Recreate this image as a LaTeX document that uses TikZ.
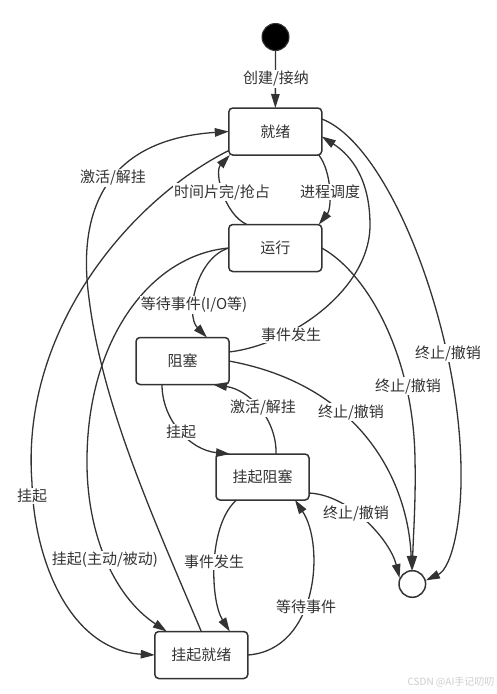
\documentclass[tikz,border=0pt]{standalone}
\usepackage{fontspec}
\setmainfont{Noto Sans CJK SC}
\usetikzlibrary{arrows.meta,calc}
\definecolor{ink}{HTML}{333333}
\begin{document}
\begin{tikzpicture}[x=1pt, y=-1pt,
    every node/.style={text=ink, font=\fontsize{15}{18}\selectfont},
    proc/.style={rectangle, draw=ink, line width=1.5pt, rounded corners=4pt, minimum width=93pt, minimum height=47pt, outer sep=0pt},
    lbl/.style={fill=white, inner sep=1pt},
    trans/.style={draw=ink, line width=1.3pt, -{Triangle[length=14pt,width=8.5pt]}}]
    \useasboundingbox (0,0) rectangle (497,694);
    \node[circle, fill=black, draw=ink, line width=1pt, minimum size=27pt, inner sep=0pt] (init) at (275.5,37) {};
    \node[proc] (ready) at (275.3,131.5) {就绪};
    \node[proc] (run) at (275.3,248) {运行};
    \node[proc] (blocked) at (182.5,361) {阻塞};
    \node[proc, minimum height=46pt] (susblk) at (262.5,477) {挂起阻塞};
    \node[proc] (susrdy) at (201.3,655) {挂起就绪};
    \node[circle, draw=ink, line width=1.5pt, fill=white, minimum size=26.6pt, inner sep=0pt] (final) at (412.3,584) {};

    \draw[trans] (init) -- (ready);
    \draw[trans] ($(ready.south east)+(-3,0)$) .. controls (332,172) and (332,208) .. ($(run.north east)+(-3,0)$);
    \draw[trans] ($(run.north west)+(18,0)$) .. controls (224,214) and (214,172) .. ($(ready.south west)+(1,0)$);
    \draw[trans] (susrdy.north) .. controls (150,510) and (100,400) .. (88,290) .. controls (80,218) and (100,140) .. (ready.west);
    \draw[trans] ($(ready.south west)+(0,-4.5)$) .. controls (130,200) and (20,330) .. (32,483) .. controls (34,560) and (70,650) .. (susrdy.west);
    \draw[trans] (run.west) .. controls (150,255) and (88,340) .. (87,458) .. controls (86,530) and (112,595) .. ($(susrdy.north west)+(12,0)$);
    \draw[trans] (run.west) .. controls (196,258) and (185,315) .. ($(blocked.north east)+(-22,0)$);
    \draw[trans] ($(blocked.east)+(0,-9)$) .. controls (290,345) and (370,290) .. (370,225) .. controls (370,180) and (352,156) .. ($(ready.east)+(0,5)$);
    \draw[trans] ($(ready.east)+(0,-12.5)$) .. controls (390,145) and (460,330) .. (461,470) .. controls (462,520) and (452,568) .. (final.15);
    \draw[trans] (run.east) .. controls (370,275) and (414,360) .. (415,460) .. controls (416,500) and (413,540) .. (final);
    \draw[trans] (blocked.east) .. controls (360,385) and (408,480) .. (final);
    \draw[trans] ($(susblk.east)+(0,16)$) .. controls (350,495) and (390,540) .. (final.155);
    \draw[trans] ($(blocked.south west)+(26,0)$) .. controls (162,420) and (190,450) .. ($(susblk.north west)+(14,0)$);
    \draw[trans] ($(susblk.north west)+(60,0)$) .. controls (277,420) and (250,390) .. ($(blocked.south east)+(-16,0)$);
    \draw[trans] ($(susblk.south west)+(20.5,0)$) .. controls (208,525) and (210,600) .. ($(susrdy.north east)+(-18,0)$);
    \draw[trans] (susrdy.east) .. controls (318,650) and (325,545) .. ($(susblk.south east)+(-14,0)$);

    \node[lbl] (admit) at (276,79) {创建/接纳};
    \node[lbl] (dispatch) at (330,192) {进程调度};
    \node[lbl] (timeout) at (222,192) {时间片完/抢占};
    \node[lbl] (activate) at (113,178) {激活/解挂};
    \node[lbl] (suspend) at (32,496) {挂起};
    \node[lbl] (suspendrun) at (105,560) {挂起(主动/被动)};
    \node[lbl] (wait) at (194,305) {等待事件(I/O等)};
    \node[lbl] (occur) at (291,335) {事件发生};
    \node[lbl] (exitready) at (448,353) {终止/撤销};
    \node[lbl] (exitrun) at (408,386) {终止/撤销};
    \node[lbl] (exitblk) at (351,412) {终止/撤销};
    \node[lbl] (exitsusblk) at (356,513) {终止/撤销};
    \node[lbl] (suspendblk) at (181,432) {挂起};
    \node[lbl] (activateblk) at (263,408) {激活/解挂};
    \node[lbl] (occursus) at (214,562) {事件发生};
    \node[lbl] (waitsus) at (306,607) {等待事件};
    \node[text=black!20, font=\fontsize{10}{12}\selectfont] (mark) at (451,682) {CSDN @AI手记叨叨};
\end{tikzpicture}
\end{document}
